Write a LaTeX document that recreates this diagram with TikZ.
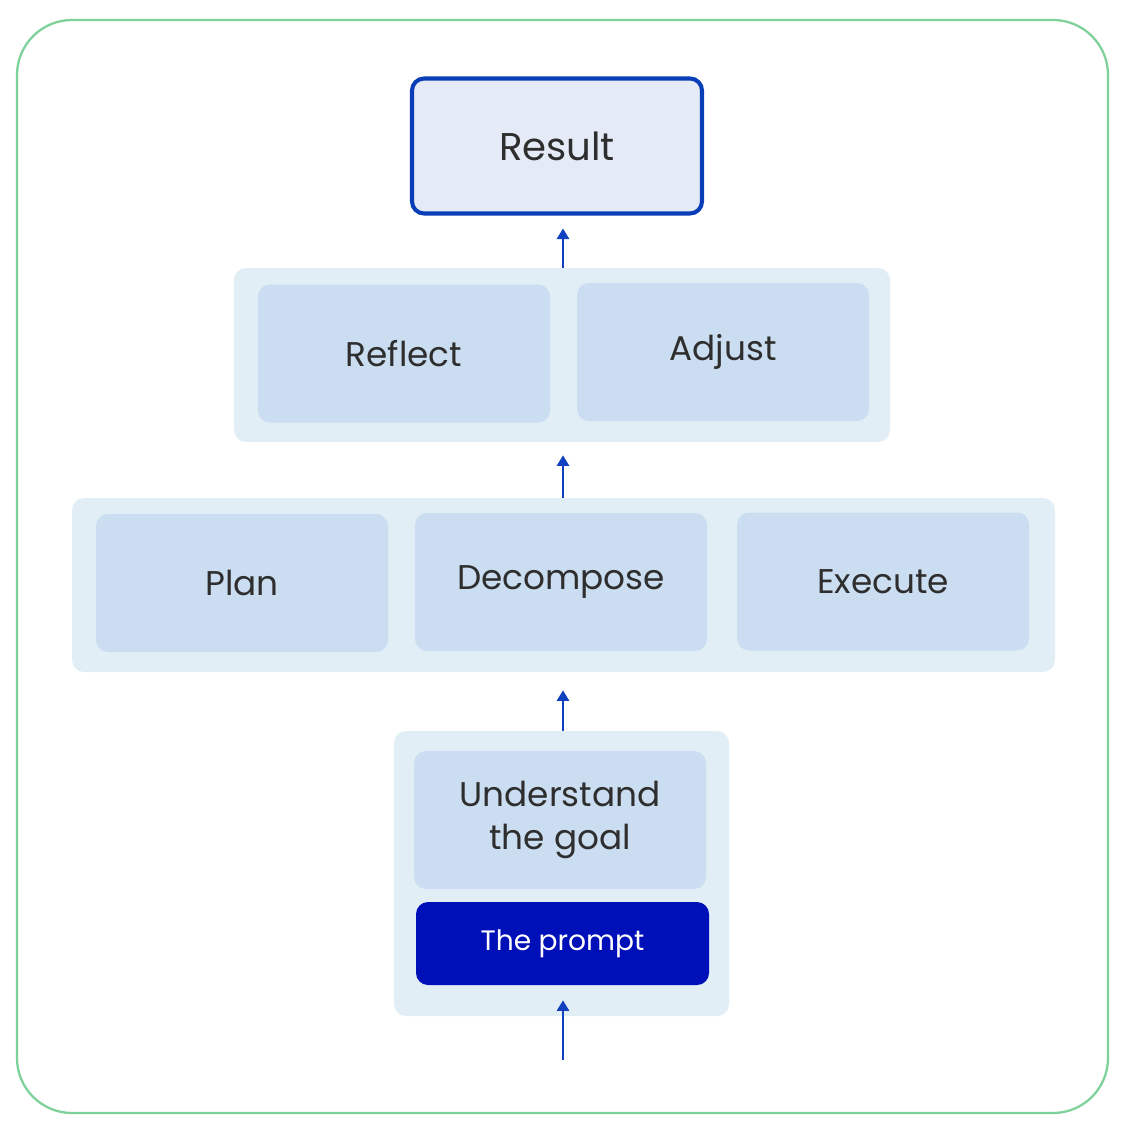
\documentclass[tikz,border=0pt]{standalone}
\usepackage{fontspec}
\setmainfont{Poppins}
\usetikzlibrary{arrows.meta}
\definecolor{frame}{HTML}{7FD19A}
\definecolor{resfill}{HTML}{E4EAF6}
\definecolor{resline}{HTML}{0A3DB8}
\definecolor{grpfill}{HTML}{E1EEF6}
\definecolor{taskfill}{HTML}{CBDDF0}
\definecolor{promptfill}{HTML}{0010B8}
\definecolor{txt}{HTML}{2E2E2E}
\definecolor{arr}{HTML}{1040C0}
\begin{document}
\begin{tikzpicture}[group/.style={rectangle, rounded corners=0.24cm,
      fill=grpfill, minimum height=3.48cm},
    task/.style={rectangle, rounded corners=0.24cm, fill=taskfill,
      minimum width=5.84cm, minimum height=2.76cm, text=txt,
      font=\fontsize{19.5}{24.5}\selectfont, align=center},
    flow/.style={-{Triangle[width=7pt,length=6pt]}, draw=arr,
      line width=1.1pt}]
    \useasboundingbox (0,0) rectangle (22.46,-22.6);
    \node [rectangle, rounded corners=1.1cm, draw=frame, line width=1.3pt,
      minimum width=21.82cm, minimum height=21.86cm] (frame) at
    (11.25,-11.33) {};
    % groups
    \node [group, minimum width=13.12cm] (g2) at (11.24,-7.10) {};
    \node [group, minimum width=19.66cm] (g3) at (11.27,-11.70) {};
    \node [group, minimum width=6.70cm, minimum height=5.70cm] (g4) at
    (11.23,-17.47) {};
    % tasks
    \node [task, draw=resline, fill=resfill, line width=2.3pt,
      minimum width=5.8cm, minimum height=2.7cm,
      font=\fontsize{22}{26}\selectfont] (result) at (11.14,-2.92) {Result};
    \node [task] (reflect) at (8.08,-7.07) {Reflect};
    \node [task] (adjust) at (14.46,-7.04) {Adjust};
    \node [task] (plan) at (4.84,-11.66) {Plan};
    \node [task] (decompose) at (11.22,-11.64) {Decompose};
    \node [task] (execute) at (17.66,-11.63) {Execute};
    \node [task] (understand) at (11.20,-16.40) {Understand\\the goal};
    \node [task, fill=promptfill, text=white, minimum width=5.86cm,
      minimum height=1.66cm, font=\fontsize{16}{19}\selectfont] (prompt)
    at (11.25,-18.87) {The prompt};
    \coordinate (input) at (11.26,-21.2);
    % arrows
    \draw [flow, shorten >=-0.32cm] (input) -- (input |- g4.south);
    \draw [flow, shorten >=0.36cm] (g4.north -| input) -- (g3.south -| input);
    \draw [flow, shorten >=0.26cm] (g3.north -| input) -- (g2.south -| input);
    \draw [flow, shorten >=0.26cm] (g2.north -| input) -- (result.south -| input);
  \end{tikzpicture}
\end{document}
